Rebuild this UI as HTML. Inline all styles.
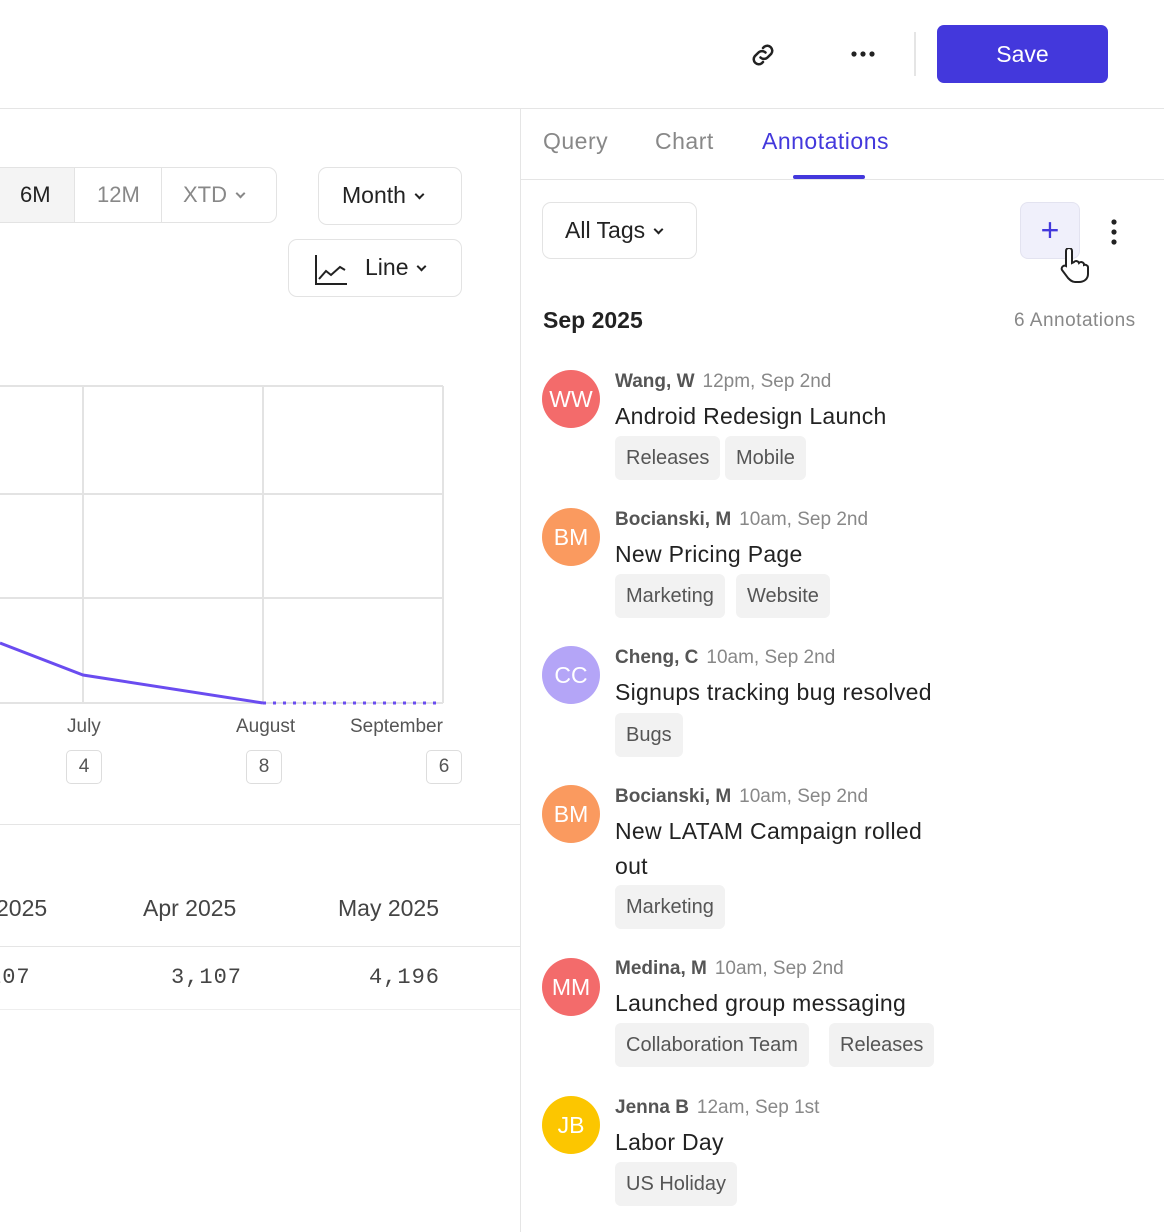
<!DOCTYPE html><html><head><style>
*{margin:0;padding:0;box-sizing:border-box}
body{width:1164px;height:1232px;background:#fff;font-family:"Liberation Sans",sans-serif;position:relative;overflow:hidden;color:#222}
.a{position:absolute;white-space:nowrap}
.btn{position:absolute;border:1px solid #e3e3e3;border-radius:9px;background:#fff}
.av{position:absolute;left:542px;width:58px;height:58px;border-radius:50%;color:#fff;font-size:23px;text-align:center;line-height:58px}
.nm{position:absolute;left:615px;font-size:19px;color:#555;font-weight:bold;white-space:nowrap}
.nm span{font-weight:normal;color:#888;margin-left:8px}
.tt{position:absolute;left:615px;font-size:23px;color:#222;white-space:nowrap;letter-spacing:0.3px}
.tg{position:absolute;height:44px;background:#f2f2f2;border-radius:6px;font-size:20px;color:#555;line-height:44px;padding:0 11px}
.num{position:absolute;width:36px;height:34px;border:1px solid #ddd;border-radius:5px;text-align:center;line-height:32px;font-size:19px;color:#555}
.ch{display:inline-block;width:9px;height:9px;border-right:2px solid currentColor;border-bottom:2px solid currentColor;transform:rotate(45deg);margin-left:10px;position:relative;top:-5px}
</style></head><body>
<div class="a" style="left:0;top:108px;width:1164px;height:1px;background:#e5e5e5"></div>
<svg class="a" style="left:748px;top:40px" width="30" height="30" viewBox="0 0 24 24" fill="none" stroke="#222" stroke-width="2" stroke-linecap="round"><path d="M10 14a4 4 0 0 0 5.6 0l3-3a4 4 0 0 0-5.6-5.6l-1 1"/><path d="M14 10a4 4 0 0 0-5.6 0l-3 3a4 4 0 0 0 5.6 5.6l1-1"/></svg>
<svg class="a" style="left:850px;top:50px" width="28" height="8"><circle cx="4" cy="4" r="2.6" fill="#222"/><circle cx="13" cy="4" r="2.6" fill="#222"/><circle cx="22" cy="4" r="2.6" fill="#222"/></svg>
<div class="a" style="left:914px;top:32px;width:2px;height:44px;background:#e5e5e5"></div>
<div class="a" style="left:937px;top:25px;width:171px;height:58px;background:#4338dc;border-radius:7px;color:#fff;font-size:23px;text-align:center;line-height:58px">Save</div>
<div class="a" style="left:520px;top:108px;width:1px;height:1124px;background:#e5e5e5"></div>
<div class="a" style="left:521px;top:179px;width:643px;height:1px;background:#e5e5e5"></div>
<div class="a" style="left:543px;top:128px;font-size:23px;color:#888;letter-spacing:0.5px">Query</div>
<div class="a" style="left:655px;top:128px;font-size:23px;color:#888;letter-spacing:0.5px">Chart</div>
<div class="a" style="left:762px;top:128px;font-size:23px;color:#4338dc;letter-spacing:0.5px">Annotations</div>
<div class="a" style="left:793px;top:175px;width:72px;height:4px;background:#4338dc;border-radius:2px"></div>
<div class="btn" style="left:-10px;top:167px;width:287px;height:56px;overflow:hidden">
<div class="a" style="left:0;top:0;width:84px;height:56px;background:#f4f4f4;border-right:1px solid #e3e3e3"></div>
<div class="a" style="left:29px;top:14px;font-size:22px;color:#222">6M</div>
<div class="a" style="left:170px;top:0;width:1px;height:56px;background:#e3e3e3"></div>
<div class="a" style="left:106px;top:14px;font-size:22px;color:#888">12M</div>
<div class="a" style="left:192px;top:14px;font-size:22px;color:#888">XTD<span class="ch" style="width:7px;height:7px"></span></div>
</div>
<div class="btn" style="left:318px;top:167px;width:144px;height:58px"><div class="a" style="left:23px;top:14px;font-size:23px">Month<span class="ch" style="width:7px;height:7px"></span></div></div>
<div class="btn" style="left:288px;top:239px;width:174px;height:58px">
<svg class="a" style="left:26px;top:14px" width="33" height="31"><path d="M1 1v29h31M4 25l7-8 5 4 9-8 5 3" fill="none" stroke="#222" stroke-width="2"/></svg>
<div class="a" style="left:76px;top:14px;font-size:23px">Line<span class="ch" style="width:7px;height:7px"></span></div></div>
<svg class="a" style="left:0;top:380px" width="520" height="340">
<g stroke="#e3e3e3" stroke-width="2" fill="none"><path d="M0 6H443M0 114H443M0 218H443M0 323H443M83 6V323M263 6V323M443 6V323"/></g>
<path d="M0 263L83 295L263 323" stroke="#6a4cf0" stroke-width="3" fill="none"/>
<path d="M263 323H443" stroke="#6a4cf0" stroke-width="3" stroke-dasharray="3 7" fill="none"/>
</svg>
<div class="a" style="left:67px;top:716px;font-size:19px;color:#555">July</div>
<div class="a" style="left:236px;top:716px;font-size:19px;color:#555">August</div>
<div class="a" style="left:350px;top:716px;font-size:19px;color:#555">September</div>
<div class="num" style="left:66px;top:750px">4</div>
<div class="num" style="left:246px;top:750px">8</div>
<div class="num" style="left:426px;top:750px">6</div>
<div class="a" style="left:0;top:824px;width:520px;height:1px;background:#e5e5e5"></div>
<div class="a" style="left:-4px;top:895px;font-size:23px;color:#444">2025</div>
<div class="a" style="left:143px;top:895px;font-size:23px;color:#444">Apr 2025</div>
<div class="a" style="left:338px;top:895px;font-size:23px;color:#444">May 2025</div>
<div class="a" style="left:0;top:946px;width:520px;height:1px;background:#e5e5e5"></div>
<div class="a" style="left:-12px;top:965px;font-size:22px;color:#444;font-family:'Liberation Mono',monospace;letter-spacing:1px">107</div>
<div class="a" style="left:171px;top:965px;font-size:22px;color:#444;font-family:'Liberation Mono',monospace;letter-spacing:1px">3,107</div>
<div class="a" style="left:369px;top:965px;font-size:22px;color:#444;font-family:'Liberation Mono',monospace;letter-spacing:1px">4,196</div>
<div class="a" style="left:0;top:1009px;width:520px;height:1px;background:#eee"></div>
<div class="btn" style="left:542px;top:202px;width:155px;height:57px"><div class="a" style="left:22px;top:14px;font-size:23px">All Tags<span class="ch" style="width:7px;height:7px"></span></div></div>
<div class="a" style="left:1020px;top:202px;width:60px;height:57px;background:#f0f0fb;border:1px solid #e3e3f0;border-radius:8px;color:#4338dc;font-size:32px;text-align:center;line-height:54px">+</div>
<svg class="a" style="left:1058px;top:248px" width="32" height="36" viewBox="0 0 32 36"><path d="M8 3a3 3 0 0 1 6 0v12l2-1a3 3 0 0 1 5 1a3 3 0 0 1 5 1v1a3 3 0 0 1 4 2v7c0 5-4 8-9 8h-4c-3 0-5-2-7-4l-6-8a3 3 0 0 1 4-4l0 0V3z" fill="#fff" stroke="#222" stroke-width="2"/></svg>
<svg class="a" style="left:1109px;top:218px" width="10" height="28"><circle cx="5" cy="4" r="2.6" fill="#222"/><circle cx="5" cy="14" r="2.6" fill="#222"/><circle cx="5" cy="24" r="2.6" fill="#222"/></svg>
<div class="a" style="left:543px;top:307px;font-size:23px;font-weight:bold">Sep 2025</div>
<div class="a" style="left:1014px;top:310px;font-size:19px;color:#888;letter-spacing:0.5px">6 Annotations</div>

<div class="av" style="top:370px;background:#f36b6b">WW</div>
<div class="nm" style="top:371px">Wang, W<span>12pm, Sep 2nd</span></div>
<div class="tt" style="top:403px">Android Redesign Launch</div>
<div class="tg" style="left:615px;top:436px">Releases</div><div class="tg" style="left:725px;top:436px">Mobile</div>

<div class="av" style="top:508px;background:#fa9a5f">BM</div>
<div class="nm" style="top:509px">Bocianski, M<span>10am, Sep 2nd</span></div>
<div class="tt" style="top:541px">New Pricing Page</div>
<div class="tg" style="left:615px;top:574px">Marketing</div><div class="tg" style="left:736px;top:574px">Website</div>

<div class="av" style="top:646px;background:#b4a5f7">CC</div>
<div class="nm" style="top:647px">Cheng, C<span>10am, Sep 2nd</span></div>
<div class="tt" style="top:679px">Signups tracking bug resolved</div>
<div class="tg" style="left:615px;top:713px">Bugs</div>

<div class="av" style="top:785px;background:#fa9a5f">BM</div>
<div class="nm" style="top:786px">Bocianski, M<span>10am, Sep 2nd</span></div>
<div class="tt" style="top:818px">New LATAM Campaign rolled</div>
<div class="tt" style="top:853px">out</div>
<div class="tg" style="left:615px;top:885px">Marketing</div>

<div class="av" style="top:958px;background:#f36b6b">MM</div>
<div class="nm" style="top:958px">Medina, M<span>10am, Sep 2nd</span></div>
<div class="tt" style="top:990px">Launched group messaging</div>
<div class="tg" style="left:615px;top:1023px">Collaboration Team</div><div class="tg" style="left:829px;top:1023px">Releases</div>

<div class="av" style="top:1096px;background:#fcc600">JB</div>
<div class="nm" style="top:1097px">Jenna B<span>12am, Sep 1st</span></div>
<div class="tt" style="top:1129px">Labor Day</div>
<div class="tg" style="left:615px;top:1162px">US Holiday</div>
</body></html>
